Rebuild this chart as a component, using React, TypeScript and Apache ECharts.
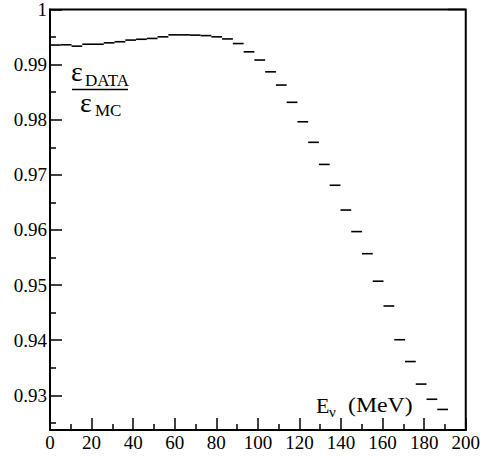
import React, { useEffect, useRef } from "react";
import * as echarts from "echarts";

// Energy bins (MeV): lower edge of bin i is i * binWidth
const binWidth = 5.175;
// Efficiency ratio eps_DATA / eps_MC per energy bin
const ratio = [
  0.99355, 0.9936, 0.99335, 0.9937, 0.9937, 0.99395, 0.99415, 0.99445, 0.9946, 0.99475,
  0.99504, 0.9954, 0.9954, 0.99535, 0.99526, 0.99504, 0.99466, 0.99382, 0.99232, 0.99083,
  0.98869, 0.98629, 0.98316, 0.97963, 0.9759, 0.97189, 0.96811, 0.96361, 0.9597, 0.95569,
  0.9507, 0.9462, 0.94008, 0.93612, 0.93203, 0.92928, 0.92743, 1.0, 1.0,
];
const xTicks = [0, 20, 40, 60, 80, 100, 120, 140, 160, 180, 200];
const yMajor = [0.93, 0.94, 0.95, 0.96, 0.97, 0.98, 0.99, 1.0];
const yMinor = [0.925, 0.935, 0.945, 0.955, 0.965, 0.975, 0.985, 0.995];
const xMin = 0;
const xMax = 200;
const yMin = 0.9237;
const yMax = 1.0;

const FONT = "Liberation Serif";

const txt = (text: string, size: number) => ({
  text,
  fontFamily: FONT,
  fontSize: size,
  fill: "#000",
});

export default function App() {
  const ref = useRef<HTMLDivElement>(null);

  useEffect(() => {
    if (!ref.current) return;
    const chart = echarts.init(ref.current, undefined, { renderer: "svg" });

    const binData = ratio.map((v, i) => [i * binWidth, (i + 1) * binWidth, v]);

    chart.setOption({
      animation: false,
      backgroundColor: "#fff",
      grid: {
        left: 50,
        right: 16,
        top: 6,
        bottom: 27,
        show: true,
        borderColor: "#000",
        borderWidth: 2,
        backgroundColor: "transparent",
      },
      xAxis: {
        type: "value",
        min: xMin,
        max: xMax,
        interval: xTicks[1] - xTicks[0],
        axisLine: { show: true, onZero: false, lineStyle: { color: "#000", width: 2 } },
        axisTick: { show: true, inside: true, length: 12, lineStyle: { color: "#000", width: 1.5 } },
        minorTick: { show: true, splitNumber: 2, length: 6, lineStyle: { color: "#000", width: 1.5 } },
        axisLabel: {
          color: "#000",
          fontFamily: FONT,
          fontSize: 19,
          margin: 3,
          formatter: (v: number) => String(Math.round(v)),
        },
        splitLine: { show: false },
        minorSplitLine: { show: false },
      },
      yAxis: [
        {
          type: "value",
          min: yMin,
          max: yMax,
          axisLine: { show: true, onZero: false, lineStyle: { color: "#000", width: 2 } },
          axisTick: {
            show: true,
            inside: true,
            length: 12,
            customValues: yMajor,
            lineStyle: { color: "#000", width: 1.5 },
          },
          axisLabel: {
            color: "#000",
            fontFamily: FONT,
            fontSize: 19,
            margin: 3,
            customValues: yMajor,
            formatter: (v: number) => String(Math.round(v * 100) / 100),
          },
          splitLine: { show: false },
        },
        {
          type: "value",
          min: yMin,
          max: yMax,
          position: "left",
          axisLine: { show: false },
          axisTick: {
            show: true,
            inside: true,
            length: 6,
            customValues: yMinor,
            lineStyle: { color: "#000", width: 1.5 },
          },
          axisLabel: { show: false },
          splitLine: { show: false },
        },
      ],
      series: [
        {
          type: "custom",
          xAxisIndex: 0,
          yAxisIndex: 0,
          clip: false,
          encode: { x: [0, 1], y: 2 },
          data: binData,
          renderItem: (params: any, api: any) => {
            const lo = api.value(0);
            const hi = Math.min(api.value(1), xMax);
            const v = api.value(2);
            const p0 = api.coord([lo, v]);
            const p1 = api.coord([hi, v]);
            return {
              type: "line",
              shape: { x1: p0[0], y1: p0[1], x2: p1[0], y2: p1[1] },
              style: { stroke: "#000", lineWidth: 1.6 },
            };
          },
        },
      ],
      graphic: [
        // y-axis title: eps_DATA / eps_MC
        { type: "text", left: 71, top: 57, style: txt("ε", 28) },
        { type: "text", left: 85, top: 72, style: txt("DATA", 17) },
        {
          type: "line",
          shape: { x1: 72, y1: 89.5, x2: 128, y2: 89.5 },
          style: { stroke: "#000", lineWidth: 1.5 },
        },
        { type: "text", left: 80, top: 88, style: txt("ε", 28) },
        { type: "text", left: 95, top: 102, style: txt("MC", 17) },
        // x-axis title: E_nu (MeV)
        { type: "text", left: 316, top: 394, style: txt("E", 22) },
        { type: "text", left: 329, top: 404, style: txt("ν", 15) },
        { type: "text", left: 348, top: 394, scaleX: 1.08, style: txt("(MeV)", 22) },
      ],
    });

    return () => chart.dispose();
  }, []);

  return (
    <div
      ref={ref}
      style={{ position: "fixed", left: 0, top: 0, width: 483, height: 457, background: "#fff" }}
    />
  );
}
